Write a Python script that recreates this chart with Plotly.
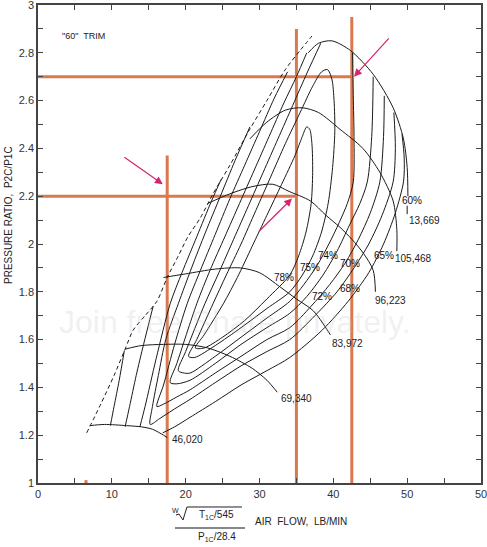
import plotly.graph_objects as go

# ---- chart data ----
surge_x = [6.6, 8.5, 10.3, 11.8, 12.9, 14.5, 16.1, 17.5, 19.0, 20.3, 22.0, 23.7, 26.0, 28.5, 31.0, 33.5, 35.5, 37.1]
surge_y = [1.21, 1.33, 1.45, 1.56, 1.64, 1.70, 1.76, 1.86, 1.95, 2.03, 2.11, 2.21, 2.33, 2.47, 2.60, 2.73, 2.81, 2.87]

speed_labels = ["46,020", "69,340", "83,972", "96,223", "105,468", "13,669"]
speed_46020_x = [7.0, 9.0, 12.0, 14.0, 15.5, 17.0, 17.5]
speed_46020_y = [1.24, 1.245, 1.24, 1.235, 1.225, 1.20, 1.19]
speed_69340_x = [11.8, 14.0, 17.0, 20.0, 23.0, 26.0, 29.0, 31.0, 32.4]
speed_69340_y = [1.56, 1.575, 1.58, 1.58, 1.565, 1.53, 1.48, 1.43, 1.38]
speed_83972_x = [17.0, 20.0, 24.0, 27.4, 30.0, 32.8, 35.0, 37.3, 39.6]
speed_83972_y = [1.86, 1.875, 1.895, 1.90, 1.88, 1.82, 1.77, 1.72, 1.62]
speed_96223_x = [23.0, 26.0, 29.0, 31.8, 34.0, 36.9, 39.0, 40.9, 42.5, 44.1, 45.4, 45.7]
speed_96223_y = [2.17, 2.21, 2.24, 2.25, 2.22, 2.18, 2.12, 2.07, 2.02, 1.96, 1.89, 1.80]
speed_105468_x = [28.7, 31.0, 33.5, 35.8, 38.0, 40.9, 44.0, 46.3, 48.1, 48.6, 48.6]
speed_105468_y = [2.44, 2.51, 2.56, 2.57, 2.55, 2.48, 2.40, 2.30, 2.18, 2.06, 1.97]
speed_113669_x = [36.6, 38.0, 39.8, 42.3, 45.4, 48.1, 49.5, 50.0, 50.1]
speed_113669_y = [2.80, 2.84, 2.85, 2.81, 2.71, 2.57, 2.44, 2.32, 2.20]

eff_78_x = [36.4, 35.8, 34.8, 33.0, 31.0, 29.0, 27.0, 25.1, 22.5, 21.3, 22.5, 25.0, 28.0, 31.0, 34.1, 35.3, 36.3, 37.0, 37.2, 37.1, 36.8, 36.4]
eff_78_y = [2.49, 2.45, 2.37, 2.25, 2.12, 1.99, 1.86, 1.75, 1.62, 1.565, 1.565, 1.61, 1.68, 1.77, 1.87, 1.95, 2.05, 2.17, 2.30, 2.42, 2.48, 2.49]
eff_75_x = [39.2, 38.4, 37.2, 35.5, 33.5, 31.5, 29.5, 27.5, 25.5, 23.7, 21.5, 20.4, 21.2, 24.0, 27.5, 31.0, 34.1, 35.8, 37.2, 38.4, 39.3, 39.9, 40.2, 40.1, 39.8, 39.2]
eff_75_y = [2.73, 2.72, 2.66, 2.55, 2.42, 2.28, 2.14, 2.00, 1.87, 1.75, 1.60, 1.53, 1.525, 1.575, 1.65, 1.73, 1.80, 1.87, 1.95, 2.05, 2.17, 2.32, 2.47, 2.60, 2.69, 2.73]
eff_74_x = [38.3, 36.5, 34.5, 32.5, 30.5, 28.5, 26.5, 24.5, 22.6, 20.0, 19.0, 19.8, 20.6, 24.0, 27.5, 31.0, 34.1, 36.0, 37.8, 39.4, 40.8, 41.9, 42.7, 42.8, 42.7, 42.6]
eff_74_y = [2.84, 2.72, 2.58, 2.44, 2.30, 2.16, 2.02, 1.88, 1.75, 1.55, 1.47, 1.46, 1.46, 1.53, 1.61, 1.69, 1.76, 1.83, 1.91, 2.00, 2.09, 2.17, 2.26, 2.45, 2.62, 2.80]
eff_72_x = [36.4, 35.0, 33.3, 31.3, 29.3, 27.3, 25.3, 23.3, 21.5, 18.8, 17.9, 18.8, 20.6, 24.0, 27.5, 31.0, 34.1, 36.4, 38.6, 40.5, 42.2, 43.6, 44.6, 45.2, 45.4]
eff_72_y = [2.80, 2.70, 2.59, 2.45, 2.31, 2.17, 2.03, 1.89, 1.75, 1.50, 1.42, 1.415, 1.43, 1.50, 1.58, 1.65, 1.71, 1.78, 1.87, 1.97, 2.08, 2.17, 2.26, 2.45, 2.70]
eff_70_x = [33.8, 32.0, 30.0, 28.0, 26.0, 24.0, 22.0, 20.2, 18.5, 17.0, 16.1, 17.0, 18.8, 20.6, 24.0, 27.5, 31.0, 34.1, 37.0, 39.5, 41.6, 43.4, 45.0, 46.3, 46.8, 46.9]
eff_70_y = [2.72, 2.61, 2.47, 2.33, 2.19, 2.04, 1.89, 1.75, 1.58, 1.41, 1.32, 1.33, 1.36, 1.39, 1.46, 1.53, 1.60, 1.65, 1.74, 1.83, 1.92, 2.02, 2.13, 2.26, 2.45, 2.62]
eff_68_x = [28.7, 26.7, 24.7, 22.7, 20.8, 19.0, 17.3, 16.3, 15.5, 15.2, 16.5, 18.5, 20.6, 24.0, 27.5, 31.0, 34.1, 37.5, 40.5, 42.8, 44.8, 46.6, 48.1, 48.4, 48.2]
eff_68_y = [2.49, 2.35, 2.20, 2.05, 1.90, 1.75, 1.60, 1.45, 1.32, 1.245, 1.27, 1.31, 1.35, 1.42, 1.49, 1.55, 1.60, 1.70, 1.80, 1.90, 2.00, 2.12, 2.26, 2.40, 2.55]
eff_65_left_x = [24.8, 23.5, 21.5, 19.5, 17.9, 16.0, 14.5, 13.8]
eff_65_left_y = [2.27, 2.18, 2.03, 1.88, 1.75, 1.52, 1.32, 1.235]
eff_65_right_x = [16.9, 18.5, 20.6, 24.0, 27.5, 31.0, 34.1, 38.5, 42.0, 44.8, 46.8, 48.4, 49.5, 49.6, 49.3]
eff_65_right_y = [1.21, 1.235, 1.275, 1.34, 1.41, 1.47, 1.525, 1.64, 1.76, 1.88, 2.00, 2.13, 2.26, 2.36, 2.46]
outer_a_x = [9.8, 10.3, 11.0, 11.7]
outer_a_y = [1.24, 1.32, 1.43, 1.555]
outer_b_x = [11.8, 12.4, 13.3, 14.3, 15.6]
outer_b_y = [1.235, 1.32, 1.45, 1.58, 1.74]

eff_labels = ["78%", "75%", "74%", "72%", "70%", "68%", "65%", "60%"]
eff_label_x = [31.7, 35.2, 37.7, 36.9, 40.65, 40.65, 45.3, 49.05]
eff_label_y = [1.858, 1.90, 1.95, 1.78, 1.92, 1.812, 1.95, 2.183]
speed_label_x = [17.9, 32.7, 39.6, 45.4, 48.1, 50.0]
speed_label_y = [1.18, 1.354, 1.583, 1.763, 1.94, 2.10]

# orange reference lines
ref_v_x = [17.5, 35.0, 42.5]
ref_v_top = [2.37, 2.90, 2.95]
ref_h_y = [2.2, 2.7]
ref_h_end = [35.0, 42.5]

# pink arrows: (tail x, tail y) -> (head x, head y)
arrow_tail_x = [11.5, 29.7, 47.7]
arrow_tail_y = [2.367, 2.046, 2.867]
arrow_head_x = [16.9, 34.4, 42.8]
arrow_head_y = [2.25, 2.19, 2.70]

x_ticks = [0, 5, 10, 15, 20, 25, 30, 35, 40, 45, 50, 55, 60]
x_ticktext = ["0", "", "10", "", "20", "", "30", "", "40", "", "50", "", "50"]
y_ticks = [round(1 + 0.1 * i, 1) for i in range(21)]
y_ticktext = ["1", "", "1.2", "", "1.4", "", "1.6", "", "1.8", "", "2",
              "", "2.2", "", "2.4", "", "2.6", "", "2.8", "", "3"]

INK = "#1a1a1a"
ORANGE = "#d9794d"
PINK = "#d6246e"
FONT = "Liberation Sans, Arial, sans-serif"

fig = go.Figure()


def curve(xs, ys, dash=None, width=1):
    fig.add_trace(go.Scatter(x=xs, y=ys, mode="lines", hoverinfo="skip",
                             line=dict(color=INK, width=width, dash=dash,
                                       shape="spline", smoothing=0.8)))


# orange lines underneath
for vx, top in zip(ref_v_x, ref_v_top):
    fig.add_trace(go.Scatter(x=[vx, vx], y=[1, top], mode="lines", hoverinfo="skip",
                             line=dict(color=ORANGE, width=3)))
for hy, end in zip(ref_h_y, ref_h_end):
    fig.add_trace(go.Scatter(x=[0, end], y=[hy, hy], mode="lines", hoverinfo="skip",
                             line=dict(color=ORANGE, width=3)))
fig.add_trace(go.Scatter(x=[6.5, 6.5], y=[1.0, 1.012], mode="lines", hoverinfo="skip",
                         line=dict(color=ORANGE, width=3)))

curve(surge_x, surge_y, dash="4px,3px")
for xs, ys in [(speed_46020_x, speed_46020_y), (speed_69340_x, speed_69340_y),
               (speed_83972_x, speed_83972_y), (speed_96223_x, speed_96223_y),
               (speed_105468_x, speed_105468_y), (speed_113669_x, speed_113669_y)]:
    curve(xs, ys)
for xs, ys in [(eff_78_x, eff_78_y), (eff_75_x, eff_75_y), (eff_74_x, eff_74_y),
               (eff_72_x, eff_72_y), (eff_70_x, eff_70_y), (eff_68_x, eff_68_y),
               (eff_65_left_x, eff_65_left_y), (eff_65_right_x, eff_65_right_y),
               (outer_a_x, outer_a_y), (outer_b_x, outer_b_y)]:
    curve(xs, ys)
# small tick between 60% and 13,669
curve([50.0, 50.0], [2.125, 2.16])

for t, x, y in zip(speed_labels, speed_label_x, speed_label_y):
    fig.add_annotation(x=x, y=y, text=t, showarrow=False, xanchor="left",
                       font=dict(family=FONT, size=10, color="#222"))
for t, x, y in zip(eff_labels, eff_label_x, eff_label_y):
    fig.add_annotation(x=x, y=y, text=t, showarrow=False, xanchor="left",
                       font=dict(family=FONT, size=10, color="#111"))
fig.add_annotation(x=3.0, y=2.87, text='"60"  TRIM', showarrow=False, xanchor="left",
                   font=dict(family=FONT, size=9, color="#222"))

for tx, ty, hx, hy in zip(arrow_tail_x, arrow_tail_y, arrow_head_x, arrow_head_y):
    fig.add_annotation(x=hx, y=hy, ax=tx, ay=ty, axref="x", ayref="y",
                       showarrow=True, arrowhead=2, arrowsize=1.3, arrowwidth=1.2,
                       arrowcolor=PINK, text="")


# axis titles (pixel -> paper helpers)
def px(p):
    return (p - 38) / 443.0


def py(p):
    return (483 - p) / 478.0


def page_text(x, y, text, size=10, angle=0, color="#222"):
    fig.add_annotation(x=px(x), y=py(y), xref="paper", yref="paper", text=text,
                       xanchor="center", yanchor="middle", textangle=angle, showarrow=False,
                       font=dict(family=FONT, size=size, color=color))


# watermark
page_text(235, 322, "Join free Share privately.", size=32, color="rgba(190,190,190,0.22)")

page_text(8, 215, "PRESSURE RATIO,  P2C/P1C", size=10, angle=-90)
page_text(175, 510, "W", size=7)
page_text(216, 515, "T<sub>1C</sub>/545", size=10)
page_text(217, 537, "P<sub>1C</sub>/28.4", size=10)
page_text(301, 521, "AIR  FLOW,  LB/MIN", size=10)
rad = [(176, 515), (179, 514), (183, 520), (187, 507), (242, 507)]
fig.add_shape(type="path", xref="paper", yref="paper",
              path="M " + " L ".join(f"{px(a):.4f},{py(b):.4f}" for a, b in rad),
              line=dict(color="#222", width=1))
fig.add_shape(type="line", xref="paper", yref="paper", x0=px(175), x1=px(245),
              y0=py(528), y1=py(528), line=dict(color="#888", width=2))

axis_common = dict(showgrid=False, zeroline=False, showline=True, mirror="ticks",
                   linecolor="#444", linewidth=1.5, ticks="inside", ticklen=5,
                   tickcolor="#444", automargin=False, ticklabeloverflow="allow",
                   tickfont=dict(family=FONT, size=11, color="#333"))
fig.update_xaxes(range=[0, 60], tickmode="array", tickvals=x_ticks, ticktext=x_ticktext, **axis_common)
fig.update_yaxes(range=[1, 3], tickmode="array", tickvals=y_ticks, ticktext=y_ticktext, **axis_common)

fig.update_layout(width=487, height=547, margin=dict(l=38, r=6, t=5, b=64, autoexpand=False),
                  plot_bgcolor="white", paper_bgcolor="white", showlegend=False)

# page body has a default 8px margin; drop it so the chart sits at the window's corner
fig.write_html("out.html", config={"displayModeBar": False},
               post_script="document.body.style.margin='0';")
